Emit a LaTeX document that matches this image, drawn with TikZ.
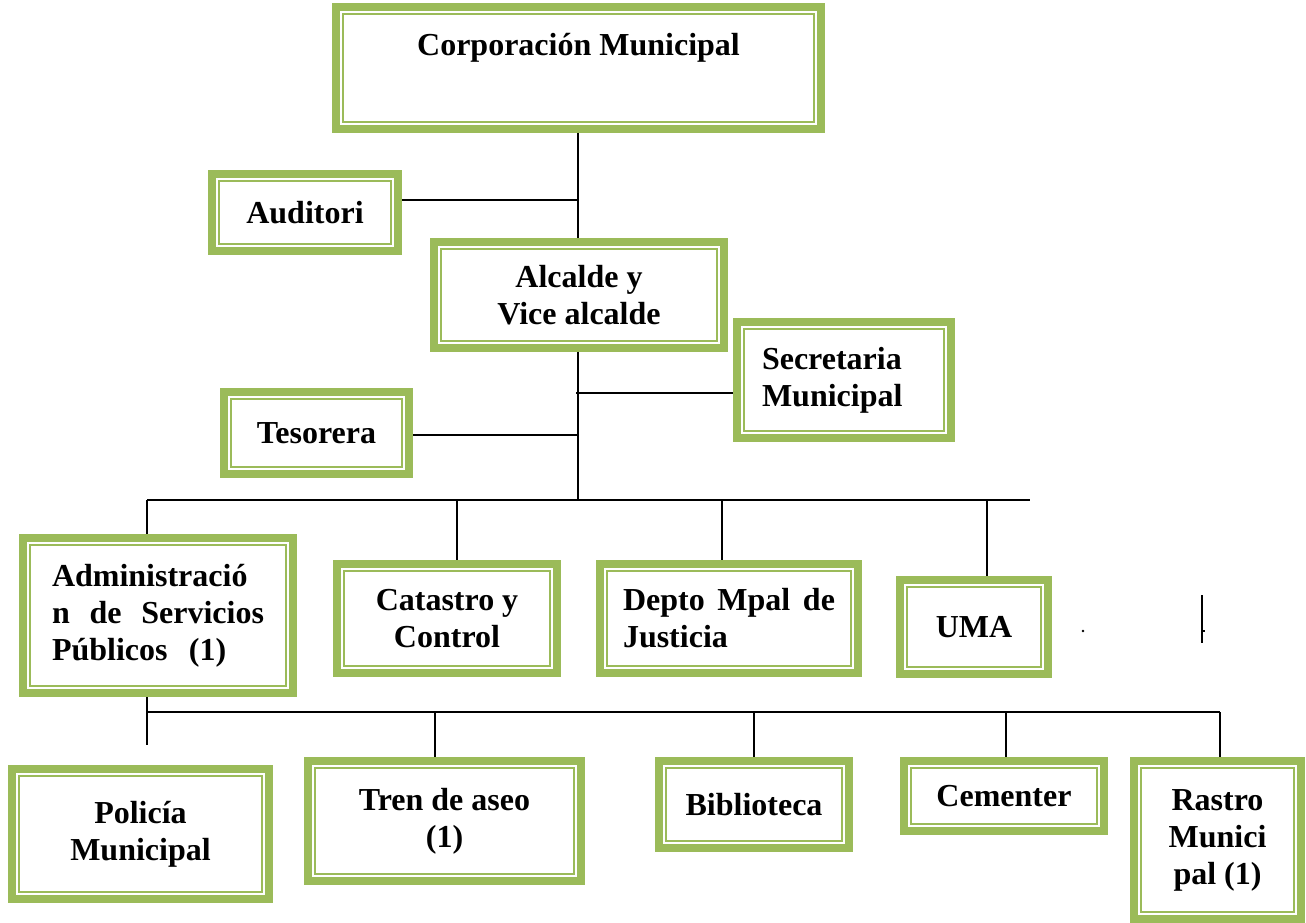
\documentclass[tikz,border=0pt]{standalone}
\usepackage{fontspec}
\setmainfont{Liberation Serif}
\definecolor{gr}{HTML}{9BBB59}
\begin{document}
\begin{tikzpicture}[x=0.75pt,y=-0.75pt,
  gbox/.style 2 args={draw=gr, line width=6pt, fill=white, inner sep=0pt, outer sep=3pt,
    minimum width={(#1-8)*0.75pt}, minimum height={(#2-8)*0.75pt}, align=center,
    font=\bfseries\fontsize{24}{27.75}\selectfont,
    path picture={\draw[gr,line width=1.5pt] ([shift={(5.6pt,5.6pt)}]path picture bounding box.south west) rectangle ([shift={(-5.6pt,-5.6pt)}]path picture bounding box.north east);}},
  conn/.style={line width=1.3pt, draw=black}]
\useasboundingbox (0,0) rectangle (1306,923);

\node[gbox={493}{130}] (corp) at (578.5,68) {Corporación Municipal\\\strut};
\node[gbox={194}{85}] (aud) at (305,212.5) {Auditori};
\node[gbox={298}{114}] (alc) at (579,295) {Alcalde y\\Vice alcalde};
\node[gbox={222}{124}, text width=123pt, align=left] (sec) at (844,380) {Secretaria\\Municipal};
\node[gbox={193}{90}] (tes) at (316.5,433) {Tesorera};
\node[gbox={278}{163}, text width=159pt, align=left] (adm) at (158,615.5) {Administració\\n\hfill de\hfill Servicios\\Públicos\ \ (1)};
\node[gbox={228}{117}] (cat) at (447,618.5) {Catastro y\\Control};
\node[gbox={266}{117}, text width=159pt, align=left] (dep) at (729,618.5) {Depto\hfill Mpal\hfill de\\Justicia};
\node[gbox={156}{102}] (uma) at (974,627) {UMA};
\node[gbox={265}{138}] (pol) at (140.5,834) {Policía\\Municipal};
\node[gbox={281}{128}] (tre) at (444.5,821) {Tren de aseo\\(1)};
\node[gbox={198}{95}] (bib) at (754,804.5) {Biblioteca};
\node[gbox={208}{78}] (cem) at (1004,796) {Cementer};
\node[gbox={175}{166}] (ras) at (1217.5,840) {Rastro\\Munici\\pal (1)};

% upper connectors
\coordinate (jA) at (578,200);
\draw[conn] (corp.south -| jA) -- (alc.north -| jA);
\draw[conn] (aud.east |- jA) -- (jA);
\coordinate (bus) at (578,500);
\draw[conn] (alc.south -| bus) -- (bus);
\coordinate (jS) at (576,393);
\draw[conn] (jS) -- (sec.west |- jS);
\coordinate (jT) at (578,435);
\draw[conn] (tes.east |- jT) -- (jT);

% middle bus
\coordinate (busL) at (147,500);
\coordinate (busR) at (1030,500);
\draw[conn] (busL) -- (busR);
\draw[conn] (busL) -- (busL |- adm.north);
\coordinate (d2) at (457,500);
\draw[conn] (d2) -- (d2 |- cat.north);
\coordinate (d3) at (722,500);
\draw[conn] (d3) -- (d3 |- dep.north);
\coordinate (d4) at (987,500);
\draw[conn] (d4) -- (d4 |- uma.north);

% lower bus
\coordinate (sL) at (147,712);
\coordinate (sR) at (1220,712);
\coordinate (sE) at (147,745);
\draw[conn] (sL |- adm.south) -- (sE);
\draw[conn] (sL) -- (sR);
\draw[conn] (sR) -- (sR |- ras.north);
\coordinate (e1) at (435,712);
\draw[conn] (e1) -- (e1 |- tre.north);
\coordinate (e2) at (754,712);
\draw[conn] (e2) -- (e2 |- bib.north);
\coordinate (e3) at (1006,712);
\draw[conn] (e3) -- (e3 |- cem.north);

% stray marks
\fill (1083,631) circle (1.3);
\coordinate (v1) at (1202,595);
\coordinate (v2) at (1202,643);
\draw[conn] (v1) -- (v2);
\coordinate (t1) at (1202,631);
\coordinate (t2) at (1205,631);
\draw[conn] (t1) -- (t2);
\end{tikzpicture}
\end{document}
